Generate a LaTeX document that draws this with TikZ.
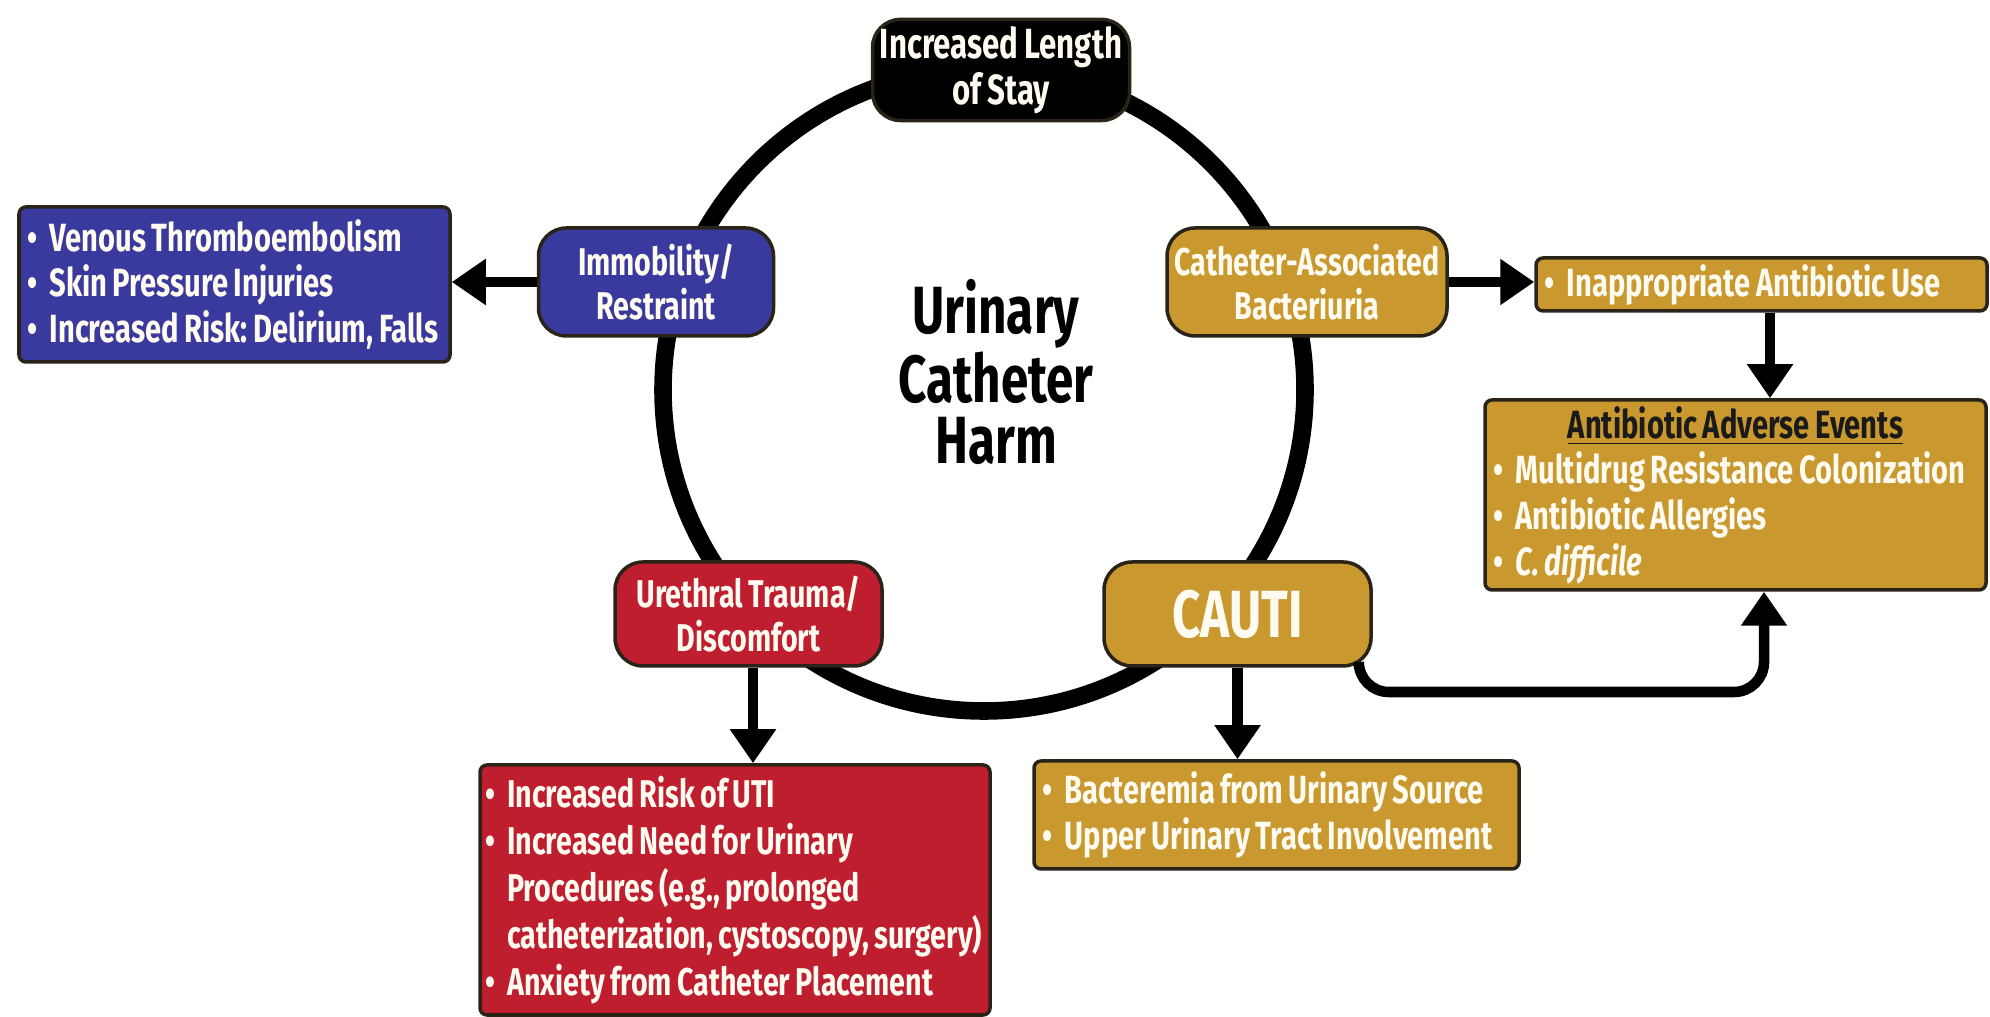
\documentclass[tikz,border=0pt]{standalone}
\usepackage{fontspec}
\setmainfont[FakeStretch=0.74, WordSpace=0.8]{Fira Sans}
\usetikzlibrary{arrows.meta}

\definecolor{harmblue}{HTML}{3A3A9E}
\definecolor{harmgold}{HTML}{C9982E}
\definecolor{harmred}{HTML}{BF1E2F}
\definecolor{boxedge}{HTML}{2A2418}
\definecolor{darktext}{HTML}{1A1A1A}
\definecolor{paletext}{HTML}{FFFBF0}

\newcommand{\bul}{•\hspace{0.32em}}

\begin{document}
\frenchspacing
\begin{tikzpicture}[
        >={Triangle[width=0.44cm,length=0.34cm]},
        cause/.style={draw=boxedge, line width=1pt, rounded corners=0.28cm, text=paletext,
            font=\bfseries\fontsize{11}{12.5}\selectfont, align=center, inner sep=2pt},
        effect/.style={draw=boxedge, line width=1pt, rounded corners=2pt, text=paletext,
            font=\bfseries\fontsize{11.2}{13}\selectfont, align=flush left,
            inner xsep=0.08cm, inner ysep=0pt},
        flow/.style={->, line width=3pt}
    ]

        \useasboundingbox (0,0) rectangle (19.9,10.17);

        % --- Кольцо ---
        \draw[line width=5pt] (9.84,6.27) circle (3.21);
        \node[font=\bfseries\fontsize{19}{17.6}\selectfont, align=center] (harm) at (9.96,6.45)
            {Urinary\\Catheter\\Harm};

        % --- Узлы на кольце ---
        \node[cause, fill=black, minimum width=2.57cm, minimum height=0.94cm,
            font=\bfseries\fontsize{12}{13}\selectfont] (stay) at (10.01,9.47)
            {Increased Length\\of Stay};
        \node[cause, fill=harmblue, minimum width=2.35cm, minimum height=1.08cm] (immob) at (6.56,7.35)
            {Immobility/\\Restraint};
        \node[cause, fill=harmgold, minimum width=2.80cm, minimum height=1.08cm] (cab) at (13.07,7.35)
            {Catheter-Associated\\Bacteriuria};
        \node[cause, fill=harmred, minimum width=2.67cm, minimum height=1.04cm] (ureth) at (7.485,4.03)
            {Urethral Trauma/\\Discomfort};
        \node[cause, fill=harmgold, minimum width=2.67cm, minimum height=1.04cm,
            font=\bfseries\fontsize{19}{19}\selectfont] (cauti) at (12.375,4.03) {CAUTI};

        % --- Последствия ---
        \node[effect, fill=harmblue, text width=4.15cm, minimum height=1.55cm] (vte) at (2.345,7.325)
            {\bul Venous Thromboembolism\\\bul Skin Pressure Injuries\\\bul Increased Risk: Delirium, Falls};
        \node[effect, fill=harmgold, text width=4.35cm, minimum height=0.53cm] (abx) at (17.615,7.325)
            {\bul Inappropriate Antibiotic Use};
        \node[effect, fill=harmgold, text width=4.85cm, minimum height=1.90cm] (ade) at (17.355,5.22)
            {\makebox[\linewidth]{\color{darktext}\underline{Antibiotic Adverse Events}}\\
             \bul Multidrug Resistance Colonization\\\bul Antibiotic Allergies\\\bul \textit{C. difficile}};
        \node[effect, fill=harmred, text width=5.0cm, inner xsep=0.05cm, minimum height=2.50cm,
            font=\bfseries\fontsize{11}{13.4}\selectfont] (uti) at (7.35,1.27)
            {\bul Increased Risk of UTI\\\bul Increased Need for Urinary\\
             \phantom{\bul}Procedures (e.g., prolonged\\
             \phantom{\bul}\mbox{catheterization, cystoscopy, surgery)}\\
             \bul Anxiety from Catheter Placement};
        \node[effect, fill=harmgold, text width=4.69cm, minimum height=1.08cm] (bact) at (12.765,2.02)
            {\bul Bacteremia from Urinary Source\\\bul Upper Urinary Tract Involvement};

        % --- Стрелки ---
        \draw[flow] (immob.west) -- (immob.west -| vte.east);
        \draw[flow] (cab.east) -- (cab.east -| abx.west);
        \draw[flow] ([xshift=0.085cm]abx.south) -- ([xshift=0.085cm]abx.south |- ade.north);
        \draw[flow] ([xshift=0.045cm]ureth.south) -- ([xshift=0.045cm]ureth.south |- uti.north);
        \draw[flow] (cauti.south) -- (cauti.south |- bact.north);
        \coordinate (bend) at (17.64,3.25);
        \draw[flow, rounded corners=0.3cm] ([xshift=-0.14cm]cauti.south east) |- (bend) -- (bend |- ade.south);

    \end{tikzpicture}
\end{document}
